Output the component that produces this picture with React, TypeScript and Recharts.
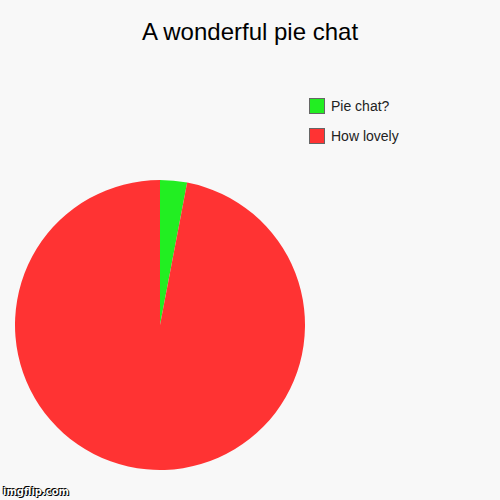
import { Cell, Legend, Pie, PieChart } from "recharts";

const labels = ["Pie chat?", "How lovely"];
const values = [3, 97];
const colors = ["#22ee22", "#ff3333"];

const data = labels.map((name, i) => ({ name, value: values[i] }));

function LegendBox() {
  return (
    <div style={{ fontFamily: "'Liberation Sans', Arial, sans-serif", fontSize: 14, color: "#222" }}>
      {labels.map((name, i) => (
        <div key={name} style={{ display: "flex", alignItems: "center", height: 16, marginBottom: 14 }}>
          <span
            style={{
              width: 14,
              height: 14,
              background: colors[i],
              border: "1px solid #666",
              marginRight: 6,
              display: "inline-block",
            }}
          />
          {name}
        </div>
      ))}
    </div>
  );
}

export default function App() {
  return (
    <div style={{ position: "absolute", left: 0, top: 0, width: 500, height: 500, background: "#f8f8f8" }}>
      <div
        style={{
          position: "absolute",
          top: 18,
          width: 500,
          textAlign: "center",
          fontFamily: "'Liberation Sans', Arial, sans-serif",
          fontSize: 24,
          color: "#000",
        }}
      >
        A wonderful pie chat
      </div>
      <PieChart width={500} height={500}>
        <Pie
          data={data}
          dataKey="value"
          nameKey="name"
          cx={155}
          cy={320}
          outerRadius={145}
          startAngle={90}
          endAngle={-270}
          stroke="none"
          isAnimationActive={false}
        >
          {data.map((d, i) => (
            <Cell key={d.name} fill={colors[i]} />
          ))}
        </Pie>
        <Legend
          content={() => <LegendBox />}
          wrapperStyle={{ position: "absolute", left: 309, top: 98, width: 150 }}
        />
      </PieChart>
      <div
        style={{
          position: "absolute",
          left: 3,
          top: 486,
          fontFamily: "'DejaVu Sans', sans-serif",
          fontSize: 10,
          fontWeight: "bold",
          color: "#fff",
          textShadow: "0 0 1px #000, 0 0 1px #000, 1px 1px 0 #000, -1px -1px 0 #000",
        }}
      >
        imgflip.com
      </div>
    </div>
  );
}
